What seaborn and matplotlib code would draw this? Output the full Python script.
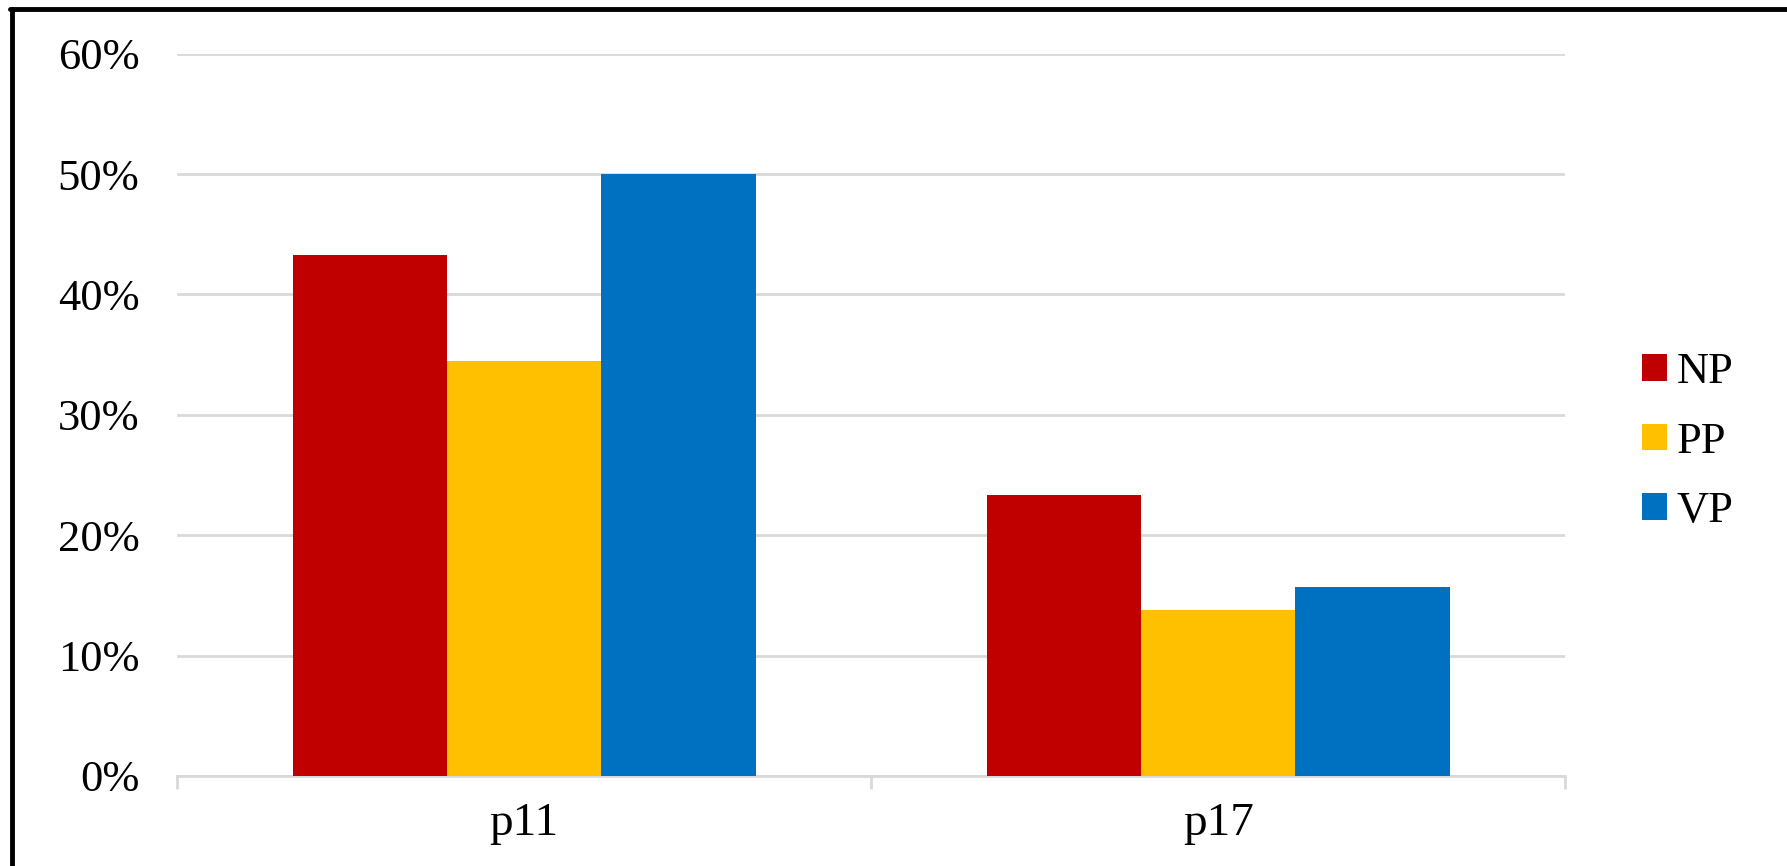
import pandas as pd
import matplotlib.pyplot as plt
import seaborn as sns
from matplotlib.ticker import PercentFormatter, FixedLocator
from matplotlib.lines import Line2D

# =========================
# 1. DATA
# =========================
items = ["p11", "p17"]
groups = ["NP", "PP", "VP"]
np_share = [0.433, 0.233]
pp_share = [0.345, 0.138]
vp_share = [0.500, 0.157]
colors = ["#C00000", "#FFC000", "#0070C0"]

df = pd.DataFrame({
    "item": items * 3,
    "group": [g for g in groups for _ in items],
    "share": np_share + pp_share + vp_share,
})

# =========================
# 2. STYLE
# =========================
sns.set_style("white")
plt.rcParams["font.family"] = ["Liberation Serif", "DejaVu Serif"]
plt.rcParams["text.color"] = "black"
grid_col = "#D9D9D9"

fig = plt.figure(figsize=(17.87, 8.66), dpi=100)
ax = fig.add_axes([0.099, 0.104, 0.777, 0.834])

sns.barplot(
    data=df, x="item", y="share", hue="group",
    order=items, hue_order=groups,
    palette=colors, saturation=1, width=0.667, linewidth=0,
    ax=ax, zorder=3,
)

# =========================
# 3. AXES
# =========================
ax.set_ylim(0, 0.6)
ax.set_xlim(-0.5, 1.5)
ax.yaxis.set_major_formatter(PercentFormatter(1.0, decimals=0))
ax.set_yticks([0, 0.1, 0.2, 0.3, 0.4, 0.5, 0.6])
ax.grid(axis="y", color=grid_col, linewidth=2.0, zorder=0)
ax.set_axisbelow(True)
for side in ["top", "right", "left"]:
    ax.spines[side].set_visible(False)
ax.spines["bottom"].set_color(grid_col)
ax.spines["bottom"].set_linewidth(2.0)

ax.tick_params(axis="y", length=0, pad=27, labelsize=32, labelcolor="black")
ax.tick_params(axis="x", which="major", bottom=True, length=0, pad=19,
               labelsize=34, labelcolor="black")
ax.xaxis.set_minor_locator(FixedLocator([-0.5, 0.5, 1.5]))
ax.tick_params(axis="x", which="minor", bottom=True, length=9, width=2.0,
               color=grid_col)
ax.set_xlabel("")
ax.set_ylabel("")

# legend on the right
handles, labels = ax.get_legend_handles_labels()
ax.legend_.remove()
fig.legend(
    handles, labels, loc="center left", bbox_to_anchor=(0.919, 0.49),
    frameon=False, fontsize=32, handlelength=0.55, handleheight=0.55,
    handletextpad=0.22, labelspacing=0.66, borderpad=0, borderaxespad=0,
)

# outer frame (left and top edges only visible)
fig.add_artist(Line2D([0.0065, 0.0065], [0, 0.99], transform=fig.transFigure,
                      color="black", linewidth=3.5))
fig.add_artist(Line2D([0.0055, 1.0], [0.9895, 0.9895], transform=fig.transFigure,
                      color="black", linewidth=3.5))

plt.savefig("out.png", dpi=100)
